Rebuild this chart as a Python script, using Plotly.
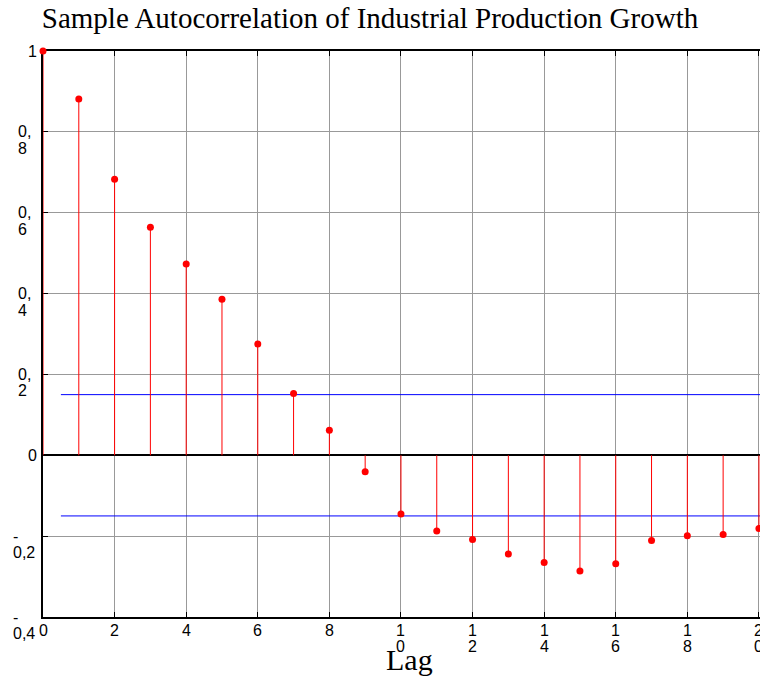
import plotly.graph_objects as go

# ---- data ----
lags = list(range(0, 21))
acf = [1.0, 0.881, 0.683, 0.564, 0.473, 0.386, 0.275, 0.153, 0.062, -0.041,
       -0.145, -0.187, -0.208, -0.244, -0.265, -0.286, -0.268, -0.211, -0.199,
       -0.196, -0.181]
conf_upper = 0.15
conf_lower = -0.15
conf_start = 0.5
x_max = 20.03

x_tick_vals = [0, 2, 4, 6, 8, 10, 12, 14, 16, 18, 20]
x_tick_text = ["0", "2", "4", "6", "8", "1\n0", "1\n2", "1\n4", "1\n6", "1\n8", "2\n0"]
y_tick_vals = [-0.4, -0.2, 0, 0.2, 0.4, 0.6, 0.8, 1]
y_tick_text = ["-\n0,4", "-\n0,2", "0", "0,\n2", "0,\n4", "0,\n6", "0,\n8", "1"]

title_text = "Sample Autocorrelation of Industrial Production Growth"
xlabel_text = "Lag"

# ---- layout constants ----
W, H = 760, 679
ML, MR, MT, MB = 43, 0, 51, 62
TICK_FONT = dict(family="Liberation Sans, Arial, sans-serif", size=16, color="black")
SERIF = "Liberation Serif, Times New Roman, serif"
LINE_PITCH = 16.5

# stems
stem_x, stem_y = [], []
for lag, v in zip(lags, acf):
    stem_x += [lag, lag, None]
    stem_y += [0, v, None]

fig = go.Figure()
fig.add_trace(go.Scatter(x=[conf_start, x_max], y=[conf_upper, conf_upper], mode="lines",
                         line=dict(color="#0000ff", width=1), hoverinfo="skip", showlegend=False))
fig.add_trace(go.Scatter(x=[conf_start, x_max], y=[conf_lower, conf_lower], mode="lines",
                         line=dict(color="#0000ff", width=1), hoverinfo="skip", showlegend=False))
fig.add_trace(go.Scatter(x=stem_x, y=stem_y, mode="lines",
                         line=dict(color="#ff0000", width=1), showlegend=False, cliponaxis=False))
fig.add_trace(go.Scatter(x=lags, y=acf, mode="markers",
                         marker=dict(color="#ff0000", size=7), showlegend=False, cliponaxis=False))
# invisible trace to activate the top axis (frame + inside ticks)
fig.add_trace(go.Scatter(x=[0], y=[0], xaxis="x2", mode="markers", marker=dict(opacity=0),
                         hoverinfo="skip", showlegend=False))

# char width estimate (Arial metrics)
def text_width(s, size):
    w = {",": 0.278, "-": 0.333}
    return sum(w.get(c, 0.556) for c in s) * size

annotations = []
# y tick labels
for val, txt in zip(y_tick_vals, y_tick_text):
    lines = txt.split("\n")
    if len(lines) == 1:
        annotations.append(dict(x=0, xref="paper", y=val, yref="y", text=lines[0],
                                showarrow=False, xanchor="right", yanchor="middle",
                                xshift=37.5 - ML, borderpad=0, font=TICK_FONT))
    else:
        bw = max(text_width(l, TICK_FONT["size"]) for l in lines)
        left = 23.5 - bw / 2
        for i, l in enumerate(lines):
            annotations.append(dict(x=0, xref="paper", y=val, yref="y", text=l,
                                    showarrow=False, xanchor="left", yanchor="middle",
                                    xshift=left - ML, yshift=-i * LINE_PITCH,
                                    borderpad=0, font=TICK_FONT))
# x tick labels
for val, txt in zip(x_tick_vals, x_tick_text):
    for i, l in enumerate(txt.split("\n")):
        annotations.append(dict(x=val, xref="x", y=0, yref="paper", text=l,
                                showarrow=False, xanchor="center", yanchor="middle",
                                yshift=-13 - i * LINE_PITCH, borderpad=0, font=TICK_FONT))
# x axis label
annotations.append(dict(x=(410 - ML) / (W - ML - MR), xref="paper", y=0, yref="paper",
                        text=xlabel_text, showarrow=False, xanchor="center", yanchor="middle",
                        yshift=-(659 - (H - MB)), font=dict(family=SERIF, size=30, color="black")))

axis_common = dict(showticklabels=False, ticks="inside", ticklen=5, tickcolor="black",
                   showline=True, linecolor="black", linewidth=2, layer="below traces")

fig.update_layout(
    width=W, height=H,
    margin=dict(l=ML, r=MR, t=MT, b=MB, pad=0),
    paper_bgcolor="white", plot_bgcolor="white",
    title=dict(text=title_text, x=370 / W, xref="container", xanchor="center",
               y=1 - 18 / H, yref="container", yanchor="middle",
               font=dict(family=SERIF, size=29, color="black")),
    annotations=annotations,
    showlegend=False,
    xaxis=dict(range=[0, x_max], tickvals=x_tick_vals,
               showgrid=True, gridcolor="#999999", gridwidth=1, zeroline=False,
               mirror=False, **axis_common),
    xaxis2=dict(range=[0, x_max], tickvals=x_tick_vals, overlaying="x", side="top",
                anchor="y", showgrid=False, zeroline=False, **axis_common),
    yaxis=dict(range=[-0.4, 1], tickvals=y_tick_vals,
               showgrid=True, gridcolor="#999999", gridwidth=1,
               zeroline=True, zerolinecolor="black", zerolinewidth=2,
               mirror=False, **axis_common),
)

fig.write_html("out.html")
